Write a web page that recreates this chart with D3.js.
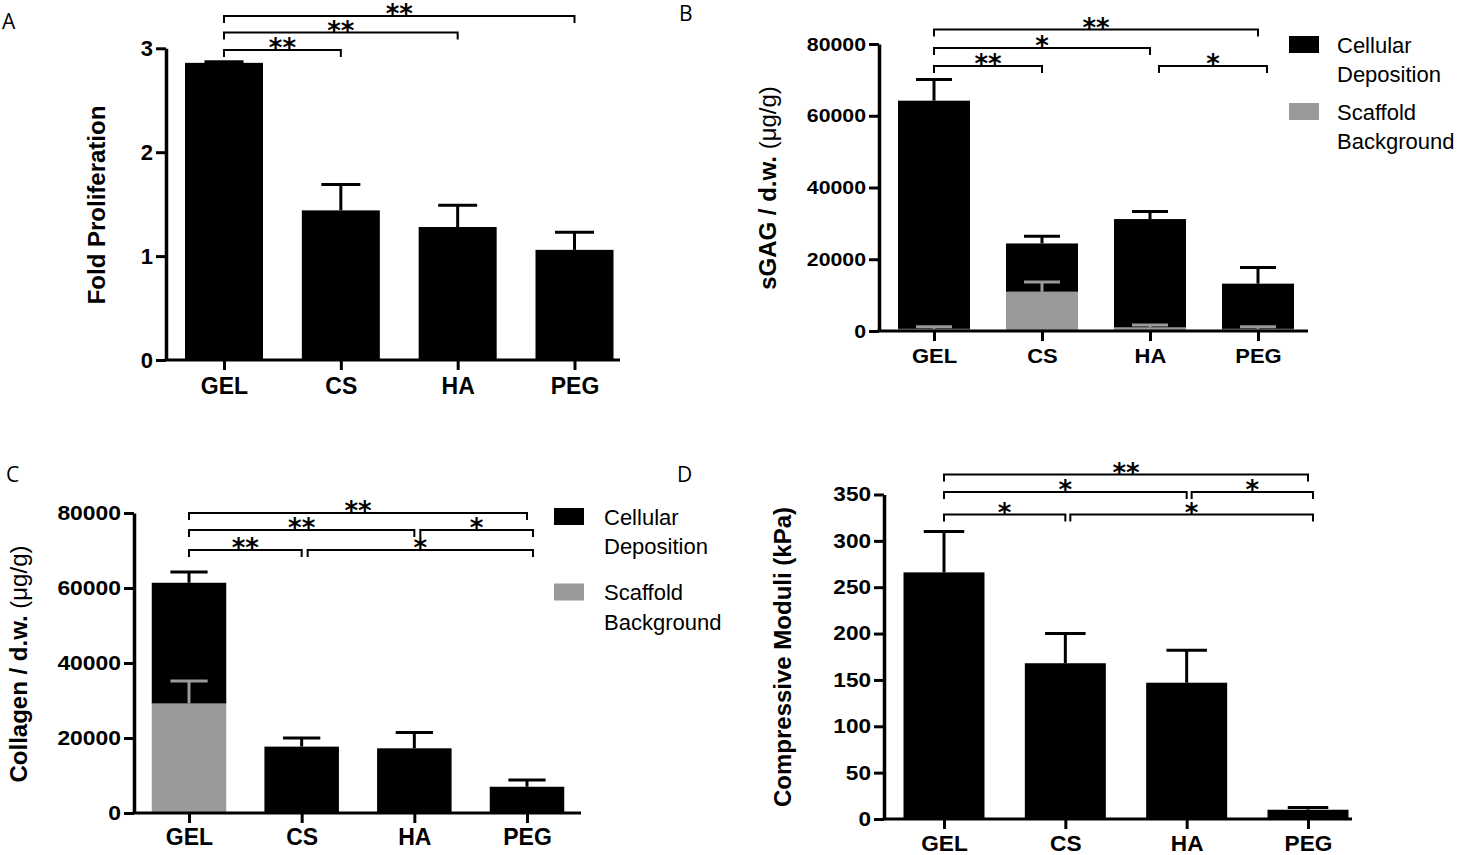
<!DOCTYPE html>
<html>
<head>
<meta charset="utf-8">
<script src="https://cdn.jsdelivr.net/npm/d3@7.9.0/dist/d3.min.js"></script>
<style>
  body { margin: 0; background: #fff; }
  svg { display: block; }
  text { font-family: "Liberation Sans", Arial, sans-serif; fill: #000; }
  .letter { font-family: "Open Sans", sans-serif; font-size: 21px; }
  .star { font-family: "DejaVu Sans", sans-serif; font-size: 26px; font-weight: bold; }
</style>
</head>
<body>
<script>
const groups = ['GEL', 'CS', 'HA', 'PEG'];

// A - fold proliferation
const foldMean = [2.86, 1.44, 1.28, 1.06];
const foldSem = [0.01, 0.25, 0.21, 0.17];
const foldTicks = [0, 1, 2, 3];

// B - sGAG per dry weight (ug/g)
const gagScaffold = [600, 10950, 1000, 600];
const gagScaffoldSem = [600, 2700, 700, 600];
const gagCellular = [63600, 13450, 30200, 12600];
const gagCellularSem = [5900, 2000, 2100, 4500];

// C - collagen per dry weight (ug/g)
const colScaffold = [29200, 0, 0, 0];
const colScaffoldSem = [6000, 0, 0, 0];
const colCellular = [32200, 17700, 17250, 7000];
const colCellularSem = [2900, 2300, 4250, 1800];
const dwTicks = [0, 20000, 40000, 60000, 80000];

// D - compressive moduli (kPa)
const modMean = [266, 168, 147, 10];
const modSem = [44, 32, 35, 2.5];
const modTicks = [0, 50, 100, 150, 200, 250, 300, 350];

// significance brackets: pair, stacking level, label
const sigA = [
  { a: 'GEL', b: 'CS', level: 0, label: '**' },
  { a: 'GEL', b: 'HA', level: 1, label: '**' },
  { a: 'GEL', b: 'PEG', level: 2, label: '**' }
];
const sigB = [
  { a: 'GEL', b: 'CS', level: 0, label: '**' },
  { a: 'HA', b: 'PEG', level: 0, label: '*' },
  { a: 'GEL', b: 'HA', level: 1, label: '*' },
  { a: 'GEL', b: 'PEG', level: 2, label: '**' }
];
const sigC = [
  { a: 'GEL', b: 'CS', level: 0, label: '**' },
  { a: 'CS', b: 'PEG', level: 0, label: '*' },
  { a: 'GEL', b: 'HA', level: 1, label: '**' },
  { a: 'HA', b: 'PEG', level: 1, label: '*' },
  { a: 'GEL', b: 'PEG', level: 2, label: '**' }
];
const sigD = [
  { a: 'GEL', b: 'CS', level: 0, label: '*' },
  { a: 'CS', b: 'PEG', level: 0, label: '*' },
  { a: 'GEL', b: 'HA', level: 1, label: '*' },
  { a: 'HA', b: 'PEG', level: 1, label: '*' },
  { a: 'GEL', b: 'PEG', level: 2, label: '**' }
];

const legendItems = [
  { color: '#000', lines: ['Cellular', 'Deposition'] },
  { color: '#9a9a9a', lines: ['Scaffold', 'Background'] }
];

const GRAY = '#9a9a9a';

const svg = d3.select('body').append('svg')
  .attr('width', 1460)
  .attr('height', 855);

// widen text horizontally (the figure was stretched a bit)
function stretch(sel, sx) {
  if (sx === 1) return;
  sel.each(function() {
    const t = d3.select(this);
    const x = +t.attr('x') || 0;
    t.attr('x', x / sx).attr('transform', `scale(${sx},1)`);
  });
}

function drawPanel(p) {
  const g = svg.append('g');

  const y = d3.scaleLinear().domain([0, p.yMax]).range([p.zeroY, p.topY]);
  const x = d3.scalePoint().domain(groups).range(p.centers);

  const rows = groups.map((grp, i) => {
    const r = { group: grp };
    p.series.forEach(s => { r[s.key] = s.values[i]; });
    return r;
  });
  const stacked = d3.stack().keys(p.series.map(s => s.key))(rows);

  // bars
  stacked.forEach(layer => {
    const s = p.series[layer.index];
    g.append('g').selectAll('rect')
      .data(layer)
      .join('rect')
        .attr('x', d => x(d.data.group) - p.barW / 2)
        .attr('width', p.barW)
        .attr('y', d => y(d[1]))
        .attr('height', d => y(d[0]) - y(d[1]))
        .attr('fill', s.color);
  });

  // error bars (upper only), top layer first so scaffold bars sit on top
  stacked.slice().reverse().forEach(layer => {
    const s = p.series[layer.index];
    const eb = layer
      .map((d, i) => ({ cx: x(d.data.group), top: d[1], hi: d[1] + s.sem[i], sem: s.sem[i] }))
      .filter(e => e.sem > 0);
    const eg = g.append('g').attr('stroke', s.color).attr('stroke-width', 3);
    eg.selectAll('line.stem').data(eb).join('line')
      .attr('class', 'stem')
      .attr('x1', d => d.cx).attr('x2', d => d.cx)
      .attr('y1', d => y(d.top)).attr('y2', d => y(d.hi));
    eg.selectAll('line.cap').data(eb).join('line')
      .attr('class', 'cap')
      .attr('x1', d => d.cx - p.barW / 4).attr('x2', d => d.cx + p.barW / 4)
      .attr('y1', d => y(d.hi)).attr('y2', d => y(d.hi));
  });

  // y axis
  const ya = g.append('g')
    .attr('transform', `translate(${p.axisX},0)`)
    .call(d3.axisLeft(y).tickValues(p.ticks).tickSize(10).tickSizeOuter(0).tickPadding(3).tickFormat(d3.format('d')));
  ya.select('.domain').attr('stroke-width', 3.5);
  ya.selectAll('.tick line').attr('stroke-width', 3);
  ya.selectAll('.tick text')
    .attr('font-family', '"Liberation Sans", Arial, sans-serif')
    .attr('font-weight', 'bold')
    .attr('font-size', p.tickFont)
    .call(stretch, p.tickSx);

  // x axis
  const xa = g.append('g')
    .attr('transform', `translate(0,${p.zeroY})`)
    .call(d3.axisBottom(x).tickSize(10).tickSizeOuter(0).tickPadding(p.catPad));
  xa.select('.domain').remove();
  xa.selectAll('.tick line').attr('stroke-width', 3);
  xa.selectAll('.tick text')
    .attr('font-family', '"Liberation Sans", Arial, sans-serif')
    .attr('font-weight', 'bold')
    .attr('font-size', p.catFont)
    .call(stretch, p.catSx);
  xa.append('line')
    .attr('x1', p.axisX - 1.5).attr('x2', p.axisEnd)
    .attr('y1', 0).attr('y2', 0)
    .attr('stroke', '#000').attr('stroke-width', 3);

  // y title
  const title = g.append('text')
    .attr('transform', `translate(${p.titleX},${p.titleY}) rotate(-90)`)
    .attr('text-anchor', 'middle')
    .attr('dy', '0.35em')
    .attr('font-size', 24)
    .attr('font-weight', 'bold');
  title.append('tspan').text(p.title);
  if (p.titleUnit) title.append('tspan').attr('font-weight', 'normal').text(p.titleUnit);

  // significance brackets
  const bg = g.append('g');
  p.sigs.forEach(s => {
    const shift = s.a === groups[0] ? 0 : p.shift;
    const x1 = x(s.a) + shift;
    const x2 = x(s.b) + shift;
    const yl = p.levels[s.level];
    bg.append('path')
      .attr('d', `M${x1},${yl + 7}V${yl}H${x2}V${yl + 7}`)
      .attr('fill', 'none')
      .attr('stroke', '#000')
      .attr('stroke-width', 2);
    bg.append('text')
      .attr('class', 'star')
      .attr('x', (x1 + x2) / 2)
      .attr('y', yl + 7)
      .attr('text-anchor', 'middle')
      .text(s.label);
  });

  // legend
  if (p.legend) {
    const L = p.legend;
    const lg = g.append('g');
    legendItems.forEach((it, i) => {
      const y0 = L.y + i * L.step;
      lg.append('rect')
        .attr('x', L.x).attr('y', y0)
        .attr('width', 30).attr('height', 17)
        .attr('fill', it.color);
      it.lines.forEach((ln, j) => {
        lg.append('text')
          .attr('x', L.x + L.textDx)
          .attr('y', y0 + 16.5 + j * 29.5)
          .attr('font-size', 22)
          .text(ln);
      });
    });
  }

  // panel letter
  svg.append('text')
    .attr('class', 'letter')
    .attr('x', p.letterX).attr('y', p.letterY)
    .text(p.letter);
}

drawPanel({
  letter: 'A', letterX: 2, letterY: 29,
  series: [{ key: 'fold', values: foldMean, sem: foldSem, color: '#000' }],
  yMax: 3, ticks: foldTicks,
  zeroY: 360, topY: 48.3, axisX: 166, axisEnd: 620,
  centers: [224, 574.5], barW: 78,
  tickFont: 22, tickSx: 1, catFont: 23, catSx: 1, catPad: 8,
  title: 'Fold Proliferation', titleX: 97, titleY: 205,
  sigs: sigA, levels: [50, 32.5, 16], shift: 0
});

drawPanel({
  letter: 'B', letterX: 679, letterY: 21,
  series: [
    { key: 'scaffold', values: gagScaffold, sem: gagScaffoldSem, color: GRAY },
    { key: 'cellular', values: gagCellular, sem: gagCellularSem, color: '#000' }
  ],
  yMax: 80000, ticks: dwTicks,
  zeroY: 331, topY: 44, axisX: 879, axisEnd: 1308,
  centers: [934, 1258], barW: 72,
  tickFont: 19, tickSx: 1.12, catFont: 20, catSx: 1.1, catPad: 8,
  title: 'sGAG / d.w. ', titleUnit: '(\u03bcg/g)', titleX: 768, titleY: 188,
  sigs: sigB, levels: [66, 48, 29.5], shift: 9,
  legend: { x: 1289, y: 36, step: 67, textDx: 48 }
});

drawPanel({
  letter: 'C', letterX: 6, letterY: 482,
  series: [
    { key: 'scaffold', values: colScaffold, sem: colScaffoldSem, color: GRAY },
    { key: 'cellular', values: colCellular, sem: colCellularSem, color: '#000' }
  ],
  yMax: 80000, ticks: dwTicks,
  zeroY: 813, topY: 513, axisX: 134, axisEnd: 581,
  centers: [189, 527], barW: 74.5,
  tickFont: 21, tickSx: 1.09, catFont: 23, catSx: 1, catPad: 6,
  title: 'Collagen / d.w. ', titleUnit: '(\u03bcg/g)', titleX: 19, titleY: 664,
  sigs: sigC, levels: [550, 530, 513], shift: 6,
  legend: { x: 554, y: 508, step: 75.5, textDx: 50 }
});

drawPanel({
  letter: 'D', letterX: 677, letterY: 482,
  series: [{ key: 'modulus', values: modMean, sem: modSem, color: '#000' }],
  yMax: 350, ticks: modTicks,
  zeroY: 819, topY: 494.5, axisX: 884, axisEnd: 1352,
  centers: [944, 1308], barW: 81,
  tickFont: 20, tickSx: 1.13, catFont: 22, catSx: 1.03, catPad: 6,
  title: 'Compressive Moduli (kPa)', titleX: 783, titleY: 657,
  sigs: sigD, levels: [514.5, 492, 474.5], shift: 5
});
</script>
</body>
</html>
